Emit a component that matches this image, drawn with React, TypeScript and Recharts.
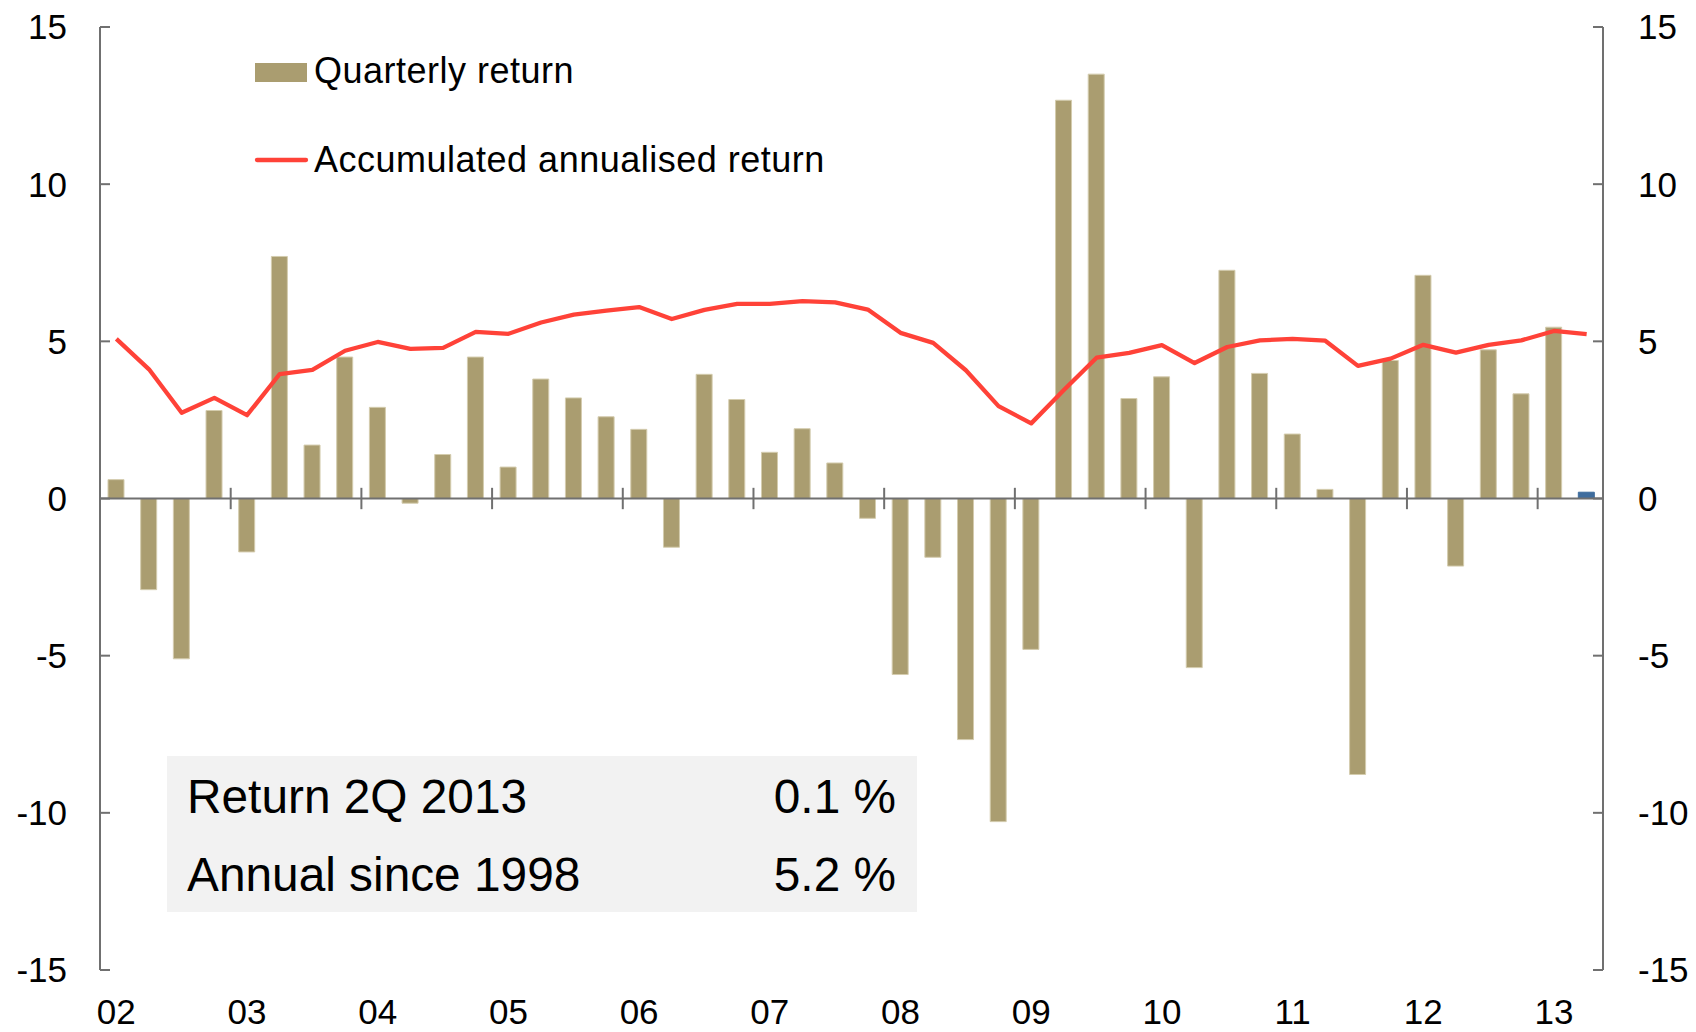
import React from 'react';
import {
  ComposedChart,
  Bar,
  Line,
  XAxis,
  YAxis,
  ReferenceLine,
  Legend,
  Cell,
} from 'recharts';

// ---------- data ----------
const quarters = [
  '2002Q1', '2002Q2', '2002Q3', '2002Q4',
  '2003Q1', '2003Q2', '2003Q3', '2003Q4',
  '2004Q1', '2004Q2', '2004Q3', '2004Q4',
  '2005Q1', '2005Q2', '2005Q3', '2005Q4',
  '2006Q1', '2006Q2', '2006Q3', '2006Q4',
  '2007Q1', '2007Q2', '2007Q3', '2007Q4',
  '2008Q1', '2008Q2', '2008Q3', '2008Q4',
  '2009Q1', '2009Q2', '2009Q3', '2009Q4',
  '2010Q1', '2010Q2', '2010Q3', '2010Q4',
  '2011Q1', '2011Q2', '2011Q3', '2011Q4',
  '2012Q1', '2012Q2', '2012Q3', '2012Q4',
  '2013Q1', '2013Q2',
];

const quarterlyReturn = [
  0.6, -2.9, -5.1, 2.8,
  -1.7, 7.7, 1.7, 4.5,
  2.9, -0.15, 1.4, 4.5,
  1.0, 3.8, 3.2, 2.6,
  2.2, -1.55, 3.95, 3.15,
  1.47, 2.22, 1.13, -0.63,
  -5.6, -1.87, -7.67, -10.28,
  -4.8, 12.67, 13.5, 3.18,
  3.87, -5.38, 7.26, 3.98,
  2.05, 0.29, -8.78, 4.39,
  7.1, -2.15, 4.73, 3.33,
  5.45, 0.2,
];

const accumulatedReturn = [
  5.08, 4.11, 2.73, 3.2,
  2.65, 3.96, 4.09, 4.7,
  4.98, 4.76, 4.79, 5.3,
  5.24, 5.6, 5.85, 5.98,
  6.09, 5.71, 6.0, 6.19,
  6.19, 6.28, 6.24, 6.01,
  5.27, 4.95, 4.08, 2.94,
  2.39, 3.45, 4.48, 4.63,
  4.88, 4.31, 4.82, 5.03,
  5.08, 5.02, 4.22, 4.45,
  4.89, 4.64, 4.89, 5.03,
  5.33, 5.23,
];

const yearLabels = ['02', '03', '04', '05', '06', '07', '08', '09', '10', '11', '12', '13'];
const yearStarts = [
  '2003Q1', '2004Q1', '2005Q1', '2006Q1', '2007Q1', '2008Q1',
  '2009Q1', '2010Q1', '2011Q1', '2012Q1', '2013Q1',
];
const yTicks = [-15, -10, -5, 0, 5, 10, 15];

const seriesNames = ['Quarterly return', 'Accumulated annualised return'];
const boxRows = [
  { label: 'Return 2Q 2013', value: '0.1 %' },
  { label: 'Annual since 1998', value: '5.2 %' },
];

// ---------- styles ----------
const FONT = '"Liberation Sans", Arial, Helvetica, sans-serif';
const TAN = '#AA9D70';
const TAN_EDGE = '#D4CCAE';
const BLUE = '#3F6D9E';
const RED = '#FF4238';
const AXIS = '#707070';

const data = quarters.map((q, i) => ({
  q,
  ret: quarterlyReturn[i],
  acc: accumulatedReturn[i],
}));

const yearFormatter = (v: string) => {
  const idx = quarters.indexOf(v);
  return idx >= 0 ? yearLabels[Math.floor(idx / 4)] : '';
};

const LegendContent = () => (
  <svg width={900} height={200} style={{ display: 'block' }}>
    <rect x={255} y={63} width={52} height={19} fill={TAN} />
    <text x={314} y={83} fontSize={36} fontFamily={FONT} letterSpacing={0.5} fill="#000">
      {seriesNames[0]}
    </text>
    <line x1={257} y1={160} x2={306} y2={160} stroke={RED} strokeWidth={4.3} strokeLinecap="round" />
    <text x={314} y={172} fontSize={36} fontFamily={FONT} letterSpacing={0.5} fill="#000">
      {seriesNames[1]}
    </text>
  </svg>
);

export default function App() {
  const tickStyle = { fontSize: 35, fill: '#000', fontFamily: FONT };
  return (
    <div style={{ position: 'absolute', left: 0, top: 0, width: 1696, height: 1032, background: '#fff' }}>
      <ComposedChart
        width={1696}
        height={1032}
        data={data}
        margin={{ top: 27, right: 0, bottom: 0, left: 0 }}
        barCategoryGap={0}
      >
        <XAxis
          dataKey="q"
          interval={3}
          axisLine={false}
          tickLine={false}
          tickSize={0}
          tickMargin={29}
          height={62}
          tick={tickStyle}
          tickFormatter={yearFormatter}
        />
        <YAxis
          yAxisId="left"
          orientation="left"
          width={100}
          domain={[-15, 15]}
          ticks={yTicks}
          interval={0}
          allowDataOverflow
          axisLine={{ stroke: AXIS, strokeWidth: 2 }}
          tickLine={{ stroke: AXIS, strokeWidth: 2 }}
          tickSize={-10}
          tickMargin={43}
          tick={tickStyle}
        />
        <YAxis
          yAxisId="right"
          orientation="right"
          width={93}
          domain={[-15, 15]}
          ticks={yTicks}
          interval={0}
          allowDataOverflow
          axisLine={{ stroke: AXIS, strokeWidth: 2 }}
          tickLine={{ stroke: AXIS, strokeWidth: 2 }}
          tickSize={-10}
          tickMargin={45}
          tick={{ ...tickStyle, textAnchor: 'start' }}
        />
        <Legend
          layout="vertical"
          align="center"
          verticalAlign="middle"
          wrapperStyle={{ left: 0, top: 0, width: 900, height: 200 }}
          content={LegendContent}
        />
        <Bar
          yAxisId="left"
          dataKey="ret"
          name={seriesNames[0]}
          barSize={16}
          isAnimationActive={false}
        >
          {data.map((d, i) => (
            <Cell
              key={d.q}
              fill={i === data.length - 1 ? BLUE : TAN}
              stroke={i === data.length - 1 ? BLUE : TAN_EDGE}
              strokeWidth={1}
            />
          ))}
        </Bar>
        <ReferenceLine yAxisId="left" y={0} stroke={AXIS} strokeWidth={2} />
        {yearStarts.map((q) => (
          <ReferenceLine
            key={q}
            yAxisId="left"
            position="start"
            segment={[{ x: q, y: -0.34 }, { x: q, y: 0.34 }]}
            stroke={AXIS}
            strokeWidth={2}
          />
        ))}
        <Line
          yAxisId="right"
          dataKey="acc"
          name={seriesNames[1]}
          type="linear"
          stroke={RED}
          strokeWidth={4.3}
          strokeLinejoin="round"
          dot={false}
          activeDot={false}
          isAnimationActive={false}
        />
      </ComposedChart>
      <svg
        width={1696}
        height={1032}
        style={{ position: 'absolute', left: 0, top: 0, pointerEvents: 'none' }}
      >
        <rect x={167} y={756} width={750} height={156} fill="#F2F2F2" />
        {boxRows.map((r, i) => (
          <g key={r.label} fontFamily={FONT} fontSize={47.8} fill="#000">
            <text x={187} y={813 + i * 77.5}>{r.label}</text>
            <text x={896} y={813 + i * 77.5} textAnchor="end">{r.value}</text>
          </g>
        ))}
      </svg>
    </div>
  );
}
